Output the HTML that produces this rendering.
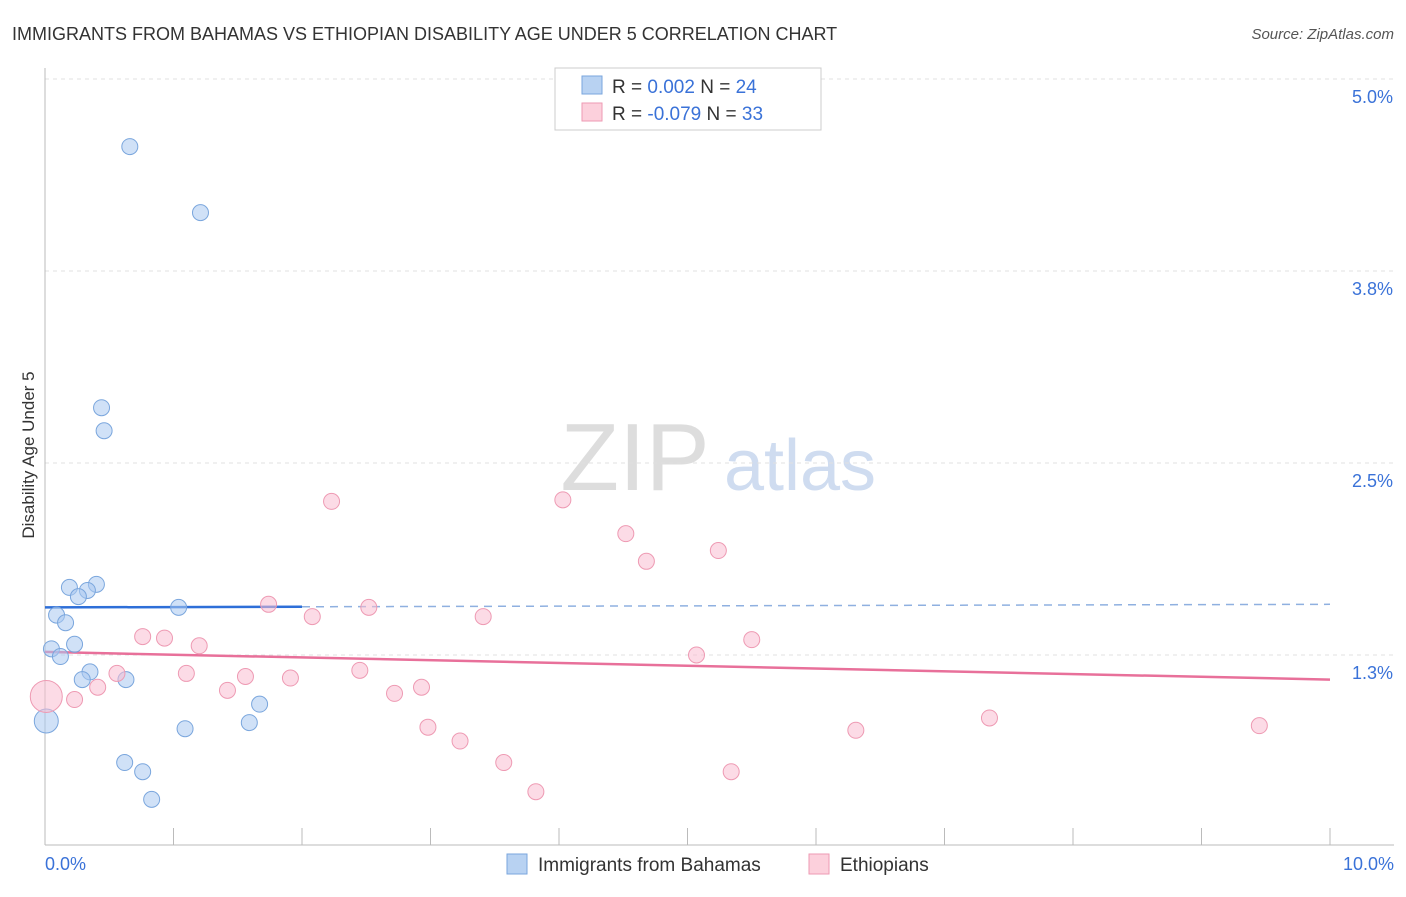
<!DOCTYPE html>
<html><head><meta charset="utf-8"><style>
body{margin:0;background:#fff;font-family:"Liberation Sans",sans-serif;}
svg text{font-family:"Liberation Sans",sans-serif;}
</style></head><body>
<svg width="1406" height="892" viewBox="0 0 1406 892">
<text x="12" y="40" font-size="18" fill="#333">IMMIGRANTS FROM BAHAMAS VS ETHIOPIAN DISABILITY AGE UNDER 5 CORRELATION CHART</text>
<text x="1394" y="39" font-size="15" fill="#555" font-style="italic" text-anchor="end">Source: ZipAtlas.com</text>
<text x="34" y="455" font-size="17" fill="#333" transform="rotate(-90 34 455)" text-anchor="middle">Disability Age Under 5</text>
<g><text x="635" y="490" font-size="96" fill="#ddd" font-family="Liberation Serif" text-anchor="middle">ZIP</text><text x="800" y="490" font-size="72" fill="#cfdcf0" text-anchor="middle">atlas</text></g>
<g id="grid"></g><g id="axes"></g><g id="trends"></g><g id="pts"></g>
<g>
<rect x="555" y="68" width="266" height="62" fill="#fff" stroke="#ccc"/>
<rect x="582" y="76" width="20" height="18" fill="#b8d2f2" stroke="#7aa6dd"/>
<rect x="582" y="103" width="20" height="18" fill="#fcd0dc" stroke="#ee9ab3"/>
<text x="612" y="93" font-size="19" fill="#333">R = <tspan fill="#3a72d8"> 0.002</tspan>    N = <tspan fill="#3a72d8">24</tspan></text>
<text x="612" y="120" font-size="19" fill="#333">R = <tspan fill="#3a72d8">-0.079</tspan>    N = <tspan fill="#3a72d8">33</tspan></text>
</g>
<g>
<rect x="507" y="854" width="20" height="20" fill="#b8d2f2" stroke="#7aa6dd"/>
<text x="538" y="871" font-size="19" fill="#333">Immigrants from Bahamas</text>
<rect x="809" y="854" width="20" height="20" fill="#fcd0dc" stroke="#ee9ab3"/>
<text x="840" y="871" font-size="19" fill="#333">Ethiopians</text>
</g>
</svg>
<script>
const yTicks=[1.25,2.5,3.75,5.0];
const yTickLabels=["1.3%","2.5%","3.8%","5.0%"];
const xTickLabels=["0.0%","10.0%"];
const bahamasX=[0.66,1.21,0.44,0.46,0.19,0.40,0.33,0.26,0.09,0.16,1.04,0.05,0.23,0.12,0.35,0.29,0.63,0.01,1.67,1.59,1.09,0.62,0.76,0.83];
const bahamasY=[4.56,4.13,2.86,2.71,1.69,1.71,1.67,1.63,1.51,1.46,1.56,1.29,1.32,1.24,1.14,1.09,1.09,0.82,0.93,0.81,0.77,0.55,0.49,0.31];
const ethX=[0.01,0.23,0.41,0.56,0.76,0.93,1.20,1.10,1.42,1.56,1.91,1.74,2.08,2.23,2.52,2.45,2.72,2.93,2.98,3.23,3.41,3.57,3.82,4.03,4.52,4.68,5.07,5.24,5.50,5.34,6.31,7.35,9.45];
const ethY=[0.98,0.96,1.04,1.13,1.37,1.36,1.31,1.13,1.02,1.11,1.10,1.58,1.50,2.25,1.56,1.15,1.00,1.04,0.78,0.69,1.50,0.55,0.36,2.26,2.04,1.86,1.25,1.93,1.35,0.49,0.76,0.84,0.79];
const bahamasTrend=[1.56,1.58];
const ethTrend=[1.27,1.09];
const NS="http://www.w3.org/2000/svg";
const xs=v=>45+v*128.5, ys=v=>79+(5-v)*153.6;
function mk(tag,attrs,parent){const e=document.createElementNS(NS,tag);for(const k in attrs)e.setAttribute(k,attrs[k]);document.getElementById(parent).appendChild(e);return e;}
yTicks.forEach((t,i)=>{
 const l=mk('line',{x1:45,x2:1394,y1:ys(t),y2:ys(t),stroke:'#e0e0e0','stroke-dasharray':'4,4'},'grid');
 
 
 const tx=mk('text',{x:1393,y:ys(t)+24,'font-size':18,fill:'#3a72d8','text-anchor':'end'},'grid');
 tx.textContent=yTickLabels[i];
 
 
});
const ax=mk('line',{x1:45,x2:45,y1:68,y2:845,stroke:'#bbb'},'axes');


const bx=mk('line',{x1:45,x2:1394,y1:845,y2:845,stroke:'#bbb'},'axes');


for(let i=1;i<=10;i++){const t=mk('line',{x1:xs(i),x2:xs(i),y1:828,y2:845,stroke:'#bbb'},'axes');
 
 }
[[0,45,'start'],[10,1394,'end']].forEach((p,i)=>{const t=mk('text',{x:p[1],y:870,'font-size':18,fill:'#3a72d8','text-anchor':p[2]},'axes');t.textContent=xTickLabels[i];
 
 });
const bxEnd=2;
const bt=mk('line',{x1:xs(0),y1:ys(bahamasTrend[0]),x2:xs(bxEnd),y2:ys(bahamasTrend[0]+(bahamasTrend[1]-bahamasTrend[0])*bxEnd/10),stroke:'#2e6fd8','stroke-width':2.5},'trends');


const bd=mk('line',{x1:xs(bxEnd),y1:ys(bahamasTrend[0]+(bahamasTrend[1]-bahamasTrend[0])*bxEnd/10),x2:xs(10),y2:ys(bahamasTrend[1]),stroke:'#8fb0e0','stroke-width':1.5,'stroke-dasharray':'8,6'},'trends');


const et=mk('line',{x1:xs(0),y1:ys(ethTrend[0]),x2:xs(10),y2:ys(ethTrend[1]),stroke:'#e8709a','stroke-width':2.5},'trends');


bahamasX.forEach((x,i)=>{const c=mk('circle',{cx:xs(x),cy:ys(bahamasY[i]),r:i==17?12:8,fill:'rgba(170,200,240,0.55)',stroke:'#7aa6dd','stroke-width':1},'pts');
 
 });
ethX.forEach((x,i)=>{const c=mk('circle',{cx:xs(x),cy:ys(ethY[i]),r:i==0?16:8,fill:'rgba(250,190,210,0.55)',stroke:'#ee9ab3','stroke-width':1},'pts');
 
 });
</script>
</body></html>
